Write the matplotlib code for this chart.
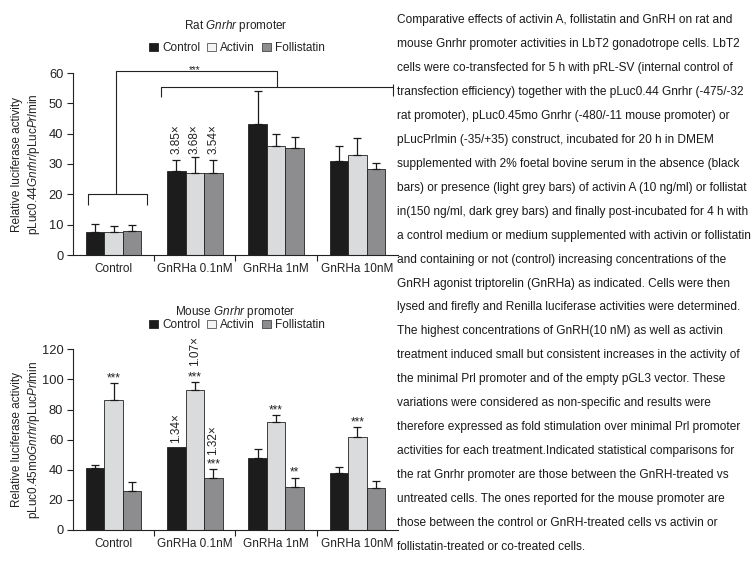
import numpy as np
import matplotlib
matplotlib.use('Agg')
import matplotlib.pyplot as plt
from matplotlib.patches import Patch

plt.rcParams['font.family'] = ['Liberation Sans', 'DejaVu Sans']
plt.rcParams['mathtext.fontset'] = 'custom'
plt.rcParams['mathtext.rm'] = 'Liberation Sans'
plt.rcParams['mathtext.it'] = 'Liberation Sans:italic'
plt.rcParams['text.color'] = '#222222'
plt.rcParams['axes.labelcolor'] = '#222222'
plt.rcParams['xtick.color'] = '#222222'
plt.rcParams['ytick.color'] = '#222222'

# ---------------- data ----------------
categories = ['Control', 'GnRHa 0.1nM', 'GnRHa 1nM', 'GnRHa 10nM']
series = ['Control', 'Activin', 'Follistatin']

rat_control = [7.5, 27.8, 43.3, 31.1]
rat_activin = [7.5, 27.0, 36.0, 33.0]
rat_follistatin = [7.8, 27.0, 35.3, 28.4]
rat_control_err = [2.7, 3.5, 10.9, 4.9]
rat_activin_err = [2.2, 5.3, 3.9, 5.6]
rat_follistatin_err = [2.1, 4.3, 3.6, 2.0]
rat_fold_labels = ['3.85×', '3.68×', '3.54×']   # GnRHa 0.1nM group

mouse_control = [41.0, 55.3, 47.8, 37.9]
mouse_activin = [86.3, 93.0, 71.5, 61.8]
mouse_follistatin = [25.9, 34.3, 28.3, 27.9]
mouse_control_err = [2.4, np.nan, 5.8, 3.7]
mouse_activin_err = [11.1, 5.1, 4.7, 6.4]
mouse_follistatin_err = [5.8, 6.0, 6.5, 4.8]
mouse_activin_stars = ['***', '***', '***', '***']
mouse_follistatin_stars = ['', '***', '**', '']
mouse_fold_labels = ['1.34×', '1.07×', '1.32×']  # GnRHa 0.1nM group

caption_lines = [
    "Comparative effects of activin A, follistatin and GnRH on rat and",
    "mouse Gnrhr promoter activities in LbT2 gonadotrope cells. LbT2",
    "cells were co-transfected for 5 h with pRL-SV (internal control of",
    "transfection efficiency) together with the pLuc0.44 Gnrhr (-475/-32",
    "rat promoter), pLuc0.45mo Gnrhr (-480/-11 mouse promoter) or",
    "pLucPrlmin (-35/+35) construct, incubated for 20 h in DMEM",
    "supplemented with 2% foetal bovine serum in the absence (black",
    "bars) or presence (light grey bars) of activin A (10 ng/ml) or follistat",
    "in(150 ng/ml, dark grey bars) and finally post-incubated for 4 h with",
    "a control medium or medium supplemented with activin or follistatin",
    "and containing or not (control) increasing concentrations of the",
    "GnRH agonist triptorelin (GnRHa) as indicated. Cells were then",
    "lysed and firefly and Renilla luciferase activities were determined.",
    "The highest concentrations of GnRH(10 nM) as well as activin",
    "treatment induced small but consistent increases in the activity of",
    "the minimal Prl promoter and of the empty pGL3 vector. These",
    "variations were considered as non-specific and results were",
    "therefore expressed as fold stimulation over minimal Prl promoter",
    "activities for each treatment.Indicated statistical comparisons for",
    "the rat Gnrhr promoter are those between the GnRH-treated vs",
    "untreated cells. The ones reported for the mouse promoter are",
    "those between the control or GnRH-treated cells vs activin or",
    "follistatin-treated or co-treated cells.",
]

# ---------------- style ----------------
colors = ['#1c1c1c', '#dadbdd', '#8d8d8f']
W = 0.228
FS = 8.5
YFS = 9.3

fig = plt.figure(figsize=(7.56, 5.67), dpi=100)


def draw_panel(ax, means, errs, ymax, ystep):
    x = np.arange(len(categories))
    xs_all = []
    for i, (m, e, c) in enumerate(zip(means, errs, colors)):
        xs = x + (i - 1) * W
        xs_all.append(xs)
        ax.bar(xs, m, W, color=c, edgecolor='#222222', linewidth=0.6, zorder=2)
        for xx, mm, ee in zip(xs, m, e):
            if not np.isnan(ee):
                ax.errorbar(xx, mm, yerr=[[0], [ee]], fmt='none', ecolor='#1a1a1a',
                            elinewidth=0.9, capsize=3, capthick=0.9, zorder=3)
    ax.set_xlim(-0.5, len(categories) - 0.5)
    ax.set_ylim(0, ymax)
    ax.set_yticks(np.arange(0, ymax + 1, ystep))
    ax.set_xticks(x[:-1] + 0.5)
    ax.set_xticklabels([])
    ax.set_xticks(x, minor=True)
    ax.set_xticklabels(categories, minor=True, fontsize=FS)
    ax.tick_params(axis='x', which='major', length=4, width=0.8, direction='out')
    ax.tick_params(axis='x', which='minor', length=0, pad=6)
    ax.tick_params(axis='y', length=4, width=0.8, labelsize=YFS, pad=3)
    for s in ['top', 'right']:
        ax.spines[s].set_visible(False)
    for s in ['left', 'bottom']:
        ax.spines[s].set_linewidth(0.8)
        ax.spines[s].set_color('#222222')
    ax.yaxis.set_label_coords(-0.096, 0.5)
    return xs_all


def legend_for(ax, y):
    handles = [Patch(facecolor=colors[0], edgecolor='#222222', linewidth=0.6),
               Patch(facecolor='#f4f4f4', edgecolor='#555555', linewidth=0.6),
               Patch(facecolor=colors[2], edgecolor='#444444', linewidth=0.6)]
    ax.legend(handles, series, loc='center', bbox_to_anchor=(0.505, y), ncol=3,
              frameon=False, fontsize=FS, handlelength=0.75, handleheight=0.75,
              handletextpad=0.35, columnspacing=0.6, borderaxespad=0)


# ---------------- rat panel ----------------
ax1 = fig.add_axes([73 / 756, 1 - 255 / 567, 325 / 756, 182 / 567])
rat_means = [rat_control, rat_activin, rat_follistatin]
rat_errs = [rat_control_err, rat_activin_err, rat_follistatin_err]
xs1 = draw_panel(ax1, rat_means, rat_errs, 60, 10)
ax1.set_ylabel('Relative luciferase activity\npLuc0.44$\\mathit{Gnrhr}$/pLuc$\\mathit{Prl}$min',
               fontsize=FS, linespacing=1.25)
ax1.set_title('Rat $\\mathit{Gnrhr}$ promoter', fontsize=FS, pad=32)
legend_for(ax1, 1.137)

g = 1
gtop = max(rat_means[i][g] + rat_errs[i][g] for i in range(3))
for i, lab in enumerate(rat_fold_labels):
    ax1.annotate(lab, (xs1[i][g], gtop), xytext=(0, 2), textcoords='offset points',
                 rotation=90, ha='center', va='bottom', fontsize=FS)

# significance brackets
lk = dict(color='#222222', lw=0.8, clip_on=False, zorder=4, solid_capstyle='butt')
ax1.plot([-0.315, -0.315, 0.41, 0.41], [16.5, 20, 20, 16.5], **lk)
ax1.plot([0.03, 0.03, 2.01, 2.01], [20, 60.6, 60.6, 55.3], **lk)
ax1.plot([0.58, 0.58, 3.44, 3.44], [52.2, 55.3, 55.3, 52.5], **lk)
ax1.plot([3.44, 3.44], [55.3, 56.3], **lk)
ax1.annotate('***', (1.0, 60.6), xytext=(0, -1.5), textcoords='offset points',
             ha='center', va='baseline', fontsize=FS - 1.5, annotation_clip=False)

# ---------------- mouse panel ----------------
ax2 = fig.add_axes([73 / 756, 1 - 530 / 567, 325 / 756, 180.7 / 567])
mouse_means = [mouse_control, mouse_activin, mouse_follistatin]
mouse_errs = [mouse_control_err, mouse_activin_err, mouse_follistatin_err]
xs2 = draw_panel(ax2, mouse_means, mouse_errs, 120, 20)
ax2.set_ylabel('Relative luciferase activity\npLuc0.45mo$\\mathit{Gnrhr}$/pLuc$\\mathit{Prl}$min',
               fontsize=FS, linespacing=1.25)
ax2.set_title('Mouse $\\mathit{Gnrhr}$ promoter', fontsize=FS, pad=25)
legend_for(ax2, 1.134)


def top_of(i, j):
    e = mouse_errs[i][j]
    return mouse_means[i][j] + (0 if np.isnan(e) else e)


star_rows = [(1, mouse_activin_stars), (2, mouse_follistatin_stars)]
for i, stars in star_rows:
    for j, s in enumerate(stars):
        if s:
            ax2.annotate(s, (xs2[i][j], top_of(i, j)), xytext=(0, 1.5),
                         textcoords='offset points', ha='center', va='baseline',
                         fontsize=FS)

fold_offsets = [3, 12, 10]   # points above bar / error-bar top
for i, lab in enumerate(mouse_fold_labels):
    ax2.annotate(lab, (xs2[i][1], top_of(i, 1)), xytext=(0, fold_offsets[i]),
                 textcoords='offset points', rotation=90, ha='center', va='bottom',
                 fontsize=FS)

# ---------------- caption ----------------
y0, y1 = 20, 547
for k, line in enumerate(caption_lines):
    yy = y0 + (y1 - y0) * k / (len(caption_lines) - 1)
    fig.text(397 / 756, 1 - yy / 567, line, ha='left', va='center', fontsize=8.6,
             color='#1a1a1a')

fig.savefig('out.png', dpi=100)
